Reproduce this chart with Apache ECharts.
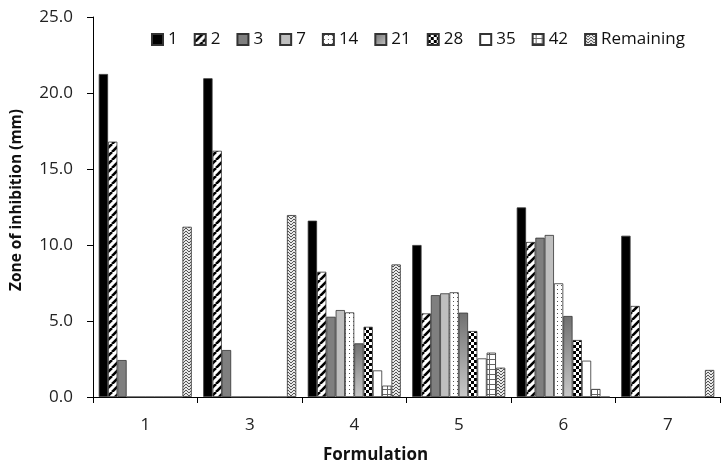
<!DOCTYPE html>
<html><head><meta charset="utf-8">
<script src="https://cdn.jsdelivr.net/npm/echarts@6/dist/echarts.min.js"></script>
<style>html,body{margin:0;padding:0;background:#fff}#c{width:728px;height:469px}</style>
</head><body><div id="c"></div>
<script>
const categories = ['1','3','4','5','6','7'];
const seriesNames = ['1','2','3','7','14','21','28','35','42','Remaining'];
const s1  = [21.25, 20.97, 11.6, 10.0, 12.47, 10.61];
const s2  = [16.8, 16.2, 8.24, 5.5, 10.2, 5.99];
const s3  = [2.43, 3.09, 5.28, 6.7, 10.48, 0];
const s7  = [0, 0, 5.72, 6.82, 10.66, 0];
const s14 = [0, 0, 5.57, 6.89, 7.48, 0];
const s21 = [0, 0, 3.53, 5.55, 5.33, 0];
const s28 = [0, 0, 4.62, 4.34, 3.75, 0];
const s35 = [0, 0, 1.75, 2.54, 2.39, 0];
const s42 = [0, 0, 0.75, 2.92, 0.53, 0];
const sRem = [11.2, 11.97, 8.72, 1.93, 0, 1.78];
const yTicks = ['0.0','5.0','10.0','15.0','20.0','25.0'];
const allData = [s1,s2,s3,s7,s14,s21,s28,s35,s42,sRem];

function pat(w,h,draw){
  const c=document.createElement('canvas');c.width=w;c.height=h;
  const g=c.getContext('2d');draw(g,w,h);
  return {image:c,repeat:'repeat'};
}
const fills = [
  '#000000',
  pat(8,8,(g,w,h)=>{g.fillStyle='#fff';g.fillRect(0,0,w,h);g.strokeStyle='#000';g.lineWidth=2.6;
    for(let k=-1;k<=1;k++){g.beginPath();g.moveTo(k*8,8);g.lineTo(k*8+8,0);g.stroke();}}),
  '#7f7f7f',
  '#bfbfbf',
  pat(4,4,(g,w,h)=>{g.fillStyle='#fff';g.fillRect(0,0,w,h);g.fillStyle='#555';g.fillRect(1,1,1,1);}),
  {type:'linear',x:0,y:0,x2:1,y2:1,colorStops:[{offset:0,color:'#6f6f6f'},{offset:1,color:'#c9c9c9'}]},
  pat(6,6,(g,w,h)=>{g.fillStyle='#fff';g.fillRect(0,0,w,h);g.fillStyle='#000';g.fillRect(0,0,3,3);g.fillRect(3,3,3,3);}),
  '#ffffff',
  pat(6,5,(g,w,h)=>{g.fillStyle='#fff';g.fillRect(0,0,w,h);g.fillStyle='#666';g.fillRect(0,4,6,1);g.fillRect(3,0,1,5);}),
  pat(6,6,(g,w,h)=>{g.fillStyle='#e8e8e8';g.fillRect(0,0,w,h);g.strokeStyle='#555';g.lineWidth=1;
    g.beginPath();g.moveTo(0,0);g.lineTo(3,3);g.lineTo(6,0);g.moveTo(0,3);g.lineTo(3,6);g.lineTo(6,3);g.stroke();})
];

const series = seriesNames.map((n,i)=>({
  name:n,type:'bar',data:allData[i],
  barGap:'0%',barCategoryGap:'11%',
  itemStyle:{color:fills[i],borderColor:'#333',borderWidth:0.8},
  emphasis:{disabled:true}
}));

const chart = echarts.init(document.getElementById('c'),null,{renderer:'canvas'});
chart.setOption({
  animation:false,
  backgroundColor:'#fff',
  textStyle:{fontFamily:'Open Sans'},
  legend:{
    data:seriesNames,left:146,top:26,itemWidth:11,itemHeight:11,itemGap:16,
    textStyle:{fontSize:17,color:'#111',fontFamily:'Open Sans'},
    icon:'rect'
  },
  grid:{left:93,right:8,top:17,bottom:72},
  xAxis:{
    type:'category',data:categories,
    name:'Formulation',nameLocation:'middle',nameGap:50,
    nameTextStyle:{fontSize:17,fontWeight:'bold',color:'#111',padding:[0,62,0,0]},
    axisLine:{lineStyle:{color:'#000',width:1}},
    axisTick:{show:true,length:6,lineStyle:{color:'#000'}},
    axisLabel:{fontSize:17,color:'#222',margin:20}
  },
  yAxis:{
    type:'value',min:0,max:25,interval:5,
    name:'Zone of inhibition (mm)',nameLocation:'middle',nameGap:68,
    nameTextStyle:{fontSize:15.5,fontWeight:'bold',color:'#111',padding:[0,0,0,14]},
    axisLine:{show:true,lineStyle:{color:'#000',width:1}},
    axisTick:{show:true,length:6,lineStyle:{color:'#000'}},
    splitLine:{show:false},
    axisLabel:{fontSize:17,color:'#222',margin:20,formatter:(v)=>yTicks[Math.round(v/5)]}
  },
  series:series
});
</script></body></html>
